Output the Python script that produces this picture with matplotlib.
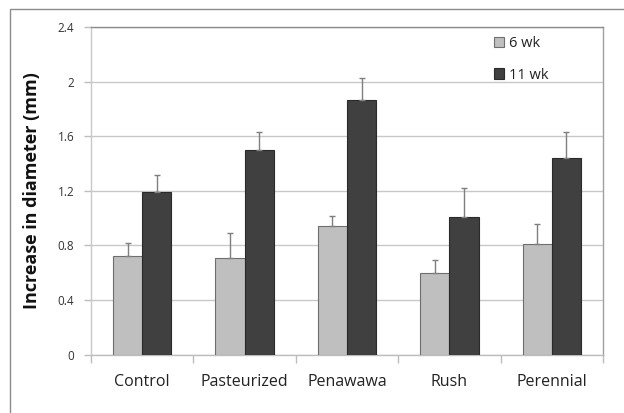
import matplotlib
matplotlib.use("Agg")
import matplotlib.pyplot as plt
import numpy as np
from matplotlib.patches import Rectangle

plt.rcParams['font.family'] = ['Open Sans', 'DejaVu Sans']

categories = ["Control", "Pasteurized", "Penawawa", "Rush", "Perennial"]
wk6 = [0.72, 0.71, 0.94, 0.60, 0.81]
wk6_err = [0.10, 0.18, 0.075, 0.095, 0.145]
wk11 = [1.19, 1.50, 1.87, 1.01, 1.44]
wk11_err = [0.13, 0.13, 0.16, 0.21, 0.19]

fig = plt.figure(figsize=(6.24, 4.13), dpi=100)
# outer chart frame (runs off right/bottom edge like the original)
fig.patches.append(Rectangle((10 / 624, -0.1), 1.2, (413 - 9) / 413 + 0.1,
                             transform=fig.transFigure, fill=False,
                             edgecolor='#8c8c8c', linewidth=1.0))

ax = fig.add_axes([91 / 624, (413 - 354.5) / 413, 512 / 624, 327.2 / 413])

x = np.arange(len(categories))
w = 0.286
err_kw = dict(ecolor='#7f7f7f', elinewidth=1.0, capsize=2.5, capthick=1.0)
ax.bar(x - w / 2, wk6, w, yerr=[np.zeros(len(wk6)), wk6_err], color='#bfbfbf',
       edgecolor='#6e6e6e', linewidth=0.8, label='6 wk', error_kw=err_kw, zorder=3)
ax.bar(x + w / 2, wk11, w, yerr=[np.zeros(len(wk11)), wk11_err], color='#404040',
       edgecolor='#2a2a2a', linewidth=0.8, label='11 wk', error_kw=err_kw, zorder=3)

ax.set_xlim(-0.5, len(categories) - 0.5)
ax.set_ylim(0, 2.4)
ax.set_yticks(np.arange(0, 2.41, 0.4))
ax.set_yticklabels(["0", "0.4", "0.8", "1.2", "1.6", "2", "2.4"])
ax.yaxis.grid(True, color='#c8c8c8', linewidth=1.0, zorder=0)
ax.set_axisbelow(True)

ax.set_xticks(x)
ax.set_xticklabels(categories)
ax.set_xticks(np.arange(-0.5, len(categories)), minor=True)
ax.tick_params(axis='x', which='major', length=0, pad=14, labelsize=11.5, colors='#222222')
ax.tick_params(axis='x', which='minor', length=6, color='#bdbdbd', width=1.0)
ax.tick_params(axis='y', length=5, color='#bdbdbd', width=1.0, pad=7,
               labelsize=8.5, labelcolor='#333333')

ax.spines['left'].set_color('#c8c8c8')
ax.spines['bottom'].set_color('#bdbdbd')
ax.spines['top'].set_color('#8c8c8c')
ax.spines['right'].set_color('#a0a0a0')
for s in ax.spines.values():
    s.set_linewidth(1.0)

ax.set_ylabel("Increase in diameter (mm)", fontsize=13, fontweight='bold',
              color='#111111', labelpad=12)

leg = ax.legend(loc='upper left', bbox_to_anchor=(0.762, 1.012), frameon=False,
                fontsize=10.5, handlelength=0.7, handleheight=0.7, handletextpad=0.3,
                labelspacing=1.1)
for t in leg.get_texts():
    t.set_color('#222222')

fig.savefig("out.png", dpi=100)
